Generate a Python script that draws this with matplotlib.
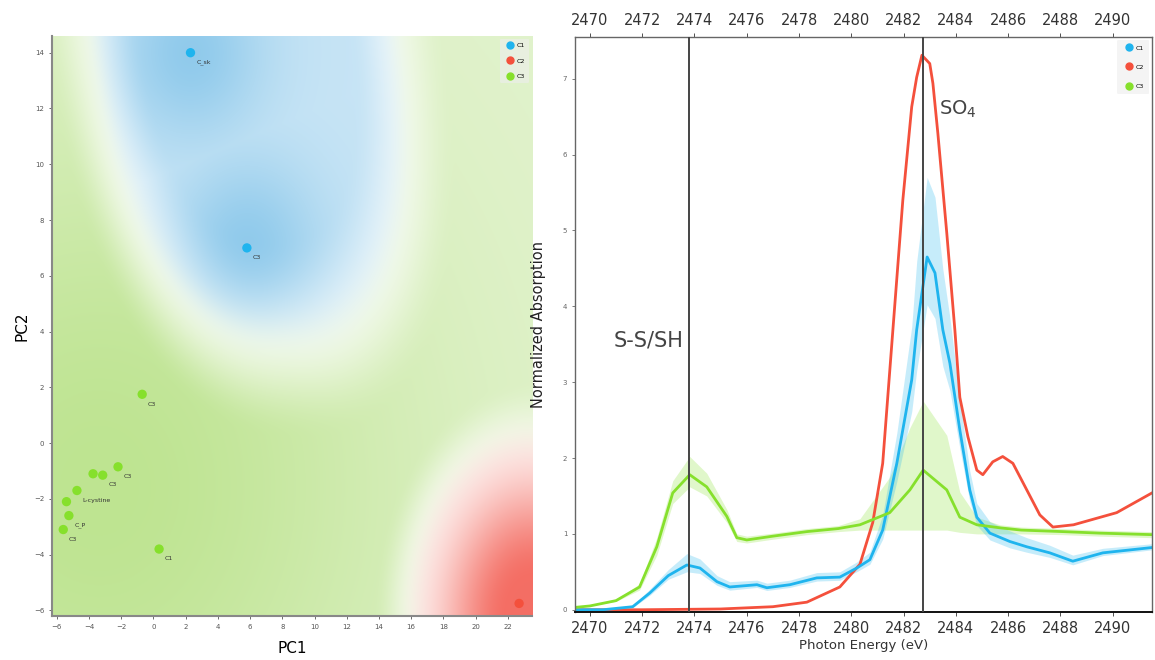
import numpy as np
import matplotlib
matplotlib.use("Agg")
import matplotlib.pyplot as plt
from matplotlib.lines import Line2D

# ---------------- data: PCA scores ----------------
pc1_blue = [2.3, 5.8]
pc2_blue = [14.0, 7.0]
lab_blue = ["C_sk", "C3"]

pc1_red = [22.7]
pc2_red = [-5.75]
lab_red = [""]

pc1_green = [-0.7, -2.2, -3.75, -3.15, -4.75, -5.4, -5.25, -5.6, 0.35]
pc2_green = [1.75, -0.85, -1.1, -1.15, -1.7, -2.1, -2.6, -3.1, -3.8]
lab_green = ["C3", "C3", "", "C3", "L-cystine", "", "C_P", "C3", "C1"]

pca_legend = ["C1", "C2", "C3"]

# ---------------- data: XANES spectra ----------------
e_green = [2469.4, 2470.0, 2471.0, 2471.9, 2472.56, 2473.17, 2473.82, 2474.47, 2475.24,
           2475.62, 2476.0, 2477.0, 2478.3, 2479.5, 2480.33, 2481.47, 2482.24, 2482.75,
           2483.65, 2484.15, 2484.8, 2485.68, 2486.5, 2488.09, 2489.5, 2491.5]
a_green = [0.03, 0.05, 0.12, 0.30, 0.83, 1.54, 1.78, 1.62, 1.23,
           0.95, 0.92, 0.97, 1.03, 1.07, 1.12, 1.28, 1.58, 1.84,
           1.58, 1.22, 1.12, 1.08, 1.05, 1.03, 1.01, 0.99]
lo_green = [0.03, 0.05, 0.11, 0.26, 0.72, 1.40, 1.62, 1.50, 1.15,
            0.90, 0.88, 0.93, 0.99, 1.03, 1.05, 1.05, 1.05, 1.05,
            1.05, 1.02, 1.00, 1.00, 1.00, 0.99, 0.97, 0.95]
hi_green = [0.04, 0.06, 0.14, 0.34, 0.95, 1.70, 2.02, 1.80, 1.32,
            1.00, 0.97, 1.01, 1.07, 1.11, 1.20, 1.75, 2.40, 2.75,
            2.30, 1.55, 1.22, 1.12, 1.09, 1.07, 1.05, 1.03]

e_blue = [2469.4, 2470.5, 2471.64, 2472.29, 2473.0, 2473.71, 2474.21, 2474.86, 2475.35,
          2476.39, 2476.77, 2477.65, 2478.68, 2479.56, 2480.21, 2480.71, 2481.2, 2481.74,
          2482.31, 2482.5, 2482.9, 2483.2, 2483.5, 2483.77, 2484.15, 2484.53, 2484.8,
          2485.3, 2486.06, 2486.71, 2487.59, 2488.47, 2489.62, 2491.5]
a_blue = [0.0, 0.0, 0.04, 0.22, 0.45, 0.59, 0.55, 0.37, 0.30,
          0.33, 0.29, 0.33, 0.42, 0.43, 0.55, 0.66, 1.05, 1.93,
          3.03, 3.69, 4.65, 4.44, 3.69, 3.25, 2.37, 1.58, 1.22,
          1.01, 0.90, 0.83, 0.75, 0.64, 0.75, 0.82]
sd_blue = [0.0, 0.0, 0.02, 0.05, 0.08, 0.15, 0.12, 0.08, 0.07,
           0.06, 0.06, 0.06, 0.07, 0.07, 0.08, 0.10, 0.20, 0.40,
           0.70, 0.90, 1.05, 1.00, 0.80, 0.60, 0.40, 0.25, 0.18,
           0.15, 0.14, 0.12, 0.10, 0.08, 0.06, 0.05]

e_red = [2469.4, 2472.0, 2475.0, 2477.0, 2478.3, 2479.56, 2480.33, 2480.82, 2481.2,
         2481.59, 2481.97, 2482.31, 2482.5, 2482.7, 2483.0, 2483.12, 2483.31, 2483.65,
         2483.96, 2484.15, 2484.46, 2484.8, 2485.03, 2485.41, 2485.79, 2486.18, 2486.71,
         2487.21, 2487.71, 2488.5, 2490.15, 2491.5]
a_red = [0.0, 0.0, 0.01, 0.04, 0.10, 0.30, 0.60, 1.15, 1.93,
         3.69, 5.40, 6.63, 7.02, 7.31, 7.20, 6.94, 6.28, 4.97,
         3.69, 2.80, 2.28, 1.84, 1.78, 1.95, 2.02, 1.93, 1.58,
         1.25, 1.09, 1.12, 1.28, 1.54]

xanes_legend = ["C1", "C2", "C3"]
xtick_vals = [2470, 2472, 2474, 2476, 2478, 2480, 2482, 2484, 2486, 2488, 2490]
peak_lines = [2473.8, 2482.75]

# ---------------- styling ----------------
c_blue = "#1fb4ee"
c_red = "#f4503c"
c_green = "#86e02c"

fig = plt.figure(figsize=(11.55, 6.6), dpi=100)

# ============ left panel ============
ax1 = fig.add_axes([0.045, 0.0667, 0.4156, 0.8788])
xmin, xmax, ymin, ymax = -6.3, 23.5, -6.2, 14.6
nx, ny = 600, 420
gx = np.linspace(xmin, xmax, nx)
gy = np.linspace(ymin, ymax, ny)
X, Y = np.meshgrid(gx, gy)
U = (X - xmin) / (xmax - xmin)
V = (Y - ymin) / (ymax - ymin)

ucen = 0.40 + 0.16 * (1 - V)
pexp = 2.4
rb = (np.abs((U - ucen) / 0.31) ** pexp + np.abs((V - 1.02) / 0.53) ** pexp) ** (1 / pexp)
rr = np.sqrt(((U - 1.0) / 0.245) ** 2 + ((V - 0.0) / 0.30) ** 2)

def smooth(t):
    t = np.clip(t, 0, 1)
    return t * t * (3 - 2 * t)

def sigm(t):
    return 1 / (1 + np.exp(-t))

wb = sigm((1 - rb) / 0.035)
wr = sigm((1 - rr) / 0.05)
wg = np.clip(1 - wb - wr, 0, 1)

def gauss(px, py, s):
    out = np.zeros_like(U)
    for a, b in zip(px, py):
        ua = (a - xmin) / (xmax - xmin)
        vb = (b - ymin) / (ymax - ymin)
        out = np.maximum(out, np.exp(-((U - ua) ** 2 + (V - vb) ** 2) / (2 * s * s)))
    return out

ib = 0.22 + 0.25 * smooth((1 - rb) / 0.3) + 0.45 * gauss(pc1_blue, pc2_blue, 0.11)
ir = 0.20 + 0.80 * smooth((1 - rr) / 0.8)
gcx = (np.mean(pc1_green) - xmin) / (xmax - xmin)
gcy = (np.mean(pc2_green) - ymin) / (ymax - ymin)
edge_g = smooth((np.minimum(rb - 1, rr - 1)) / 0.35)
ig = 0.22 + 0.78 * edge_g * (0.3 + 0.7 * np.exp(-((U - gcx) ** 2 + (V - gcy) ** 2) / (2 * 0.45 ** 2)))

white = np.array([1.0, 1.0, 1.0])
col_b = np.array([135, 198, 234]) / 255
col_r = np.array([244, 110, 100]) / 255
col_g = np.array([190, 228, 145]) / 255
img = np.zeros((ny, nx, 3))
for w, s, c in ((wb, ib, col_b), (wr, ir, col_r), (wg, ig, col_g)):
    s = np.clip(s, 0, 1)
    img = img + w[..., None] * (white + s[..., None] * (c - white))
img = np.clip(img, 0, 1)
ax1.imshow(img, extent=[xmin, xmax, ymin, ymax], origin="lower", aspect="auto",
           interpolation="bilinear", zorder=0)

ax1.scatter(pc1_blue, pc2_blue, s=45, color=c_blue, zorder=3, edgecolors="none")
ax1.scatter(pc1_red, pc2_red, s=45, color=c_red, zorder=3, edgecolors="none")
ax1.scatter(pc1_green, pc2_green, s=45, color=c_green, zorder=3, edgecolors="none")
for xs, ys, ls in ((pc1_blue, pc2_blue, lab_blue), (pc1_green, pc2_green, lab_green)):
    for a, b, t in zip(xs, ys, ls):
        if t:
            ax1.text(a + 0.35, b - 0.35, t, fontsize=4.5, color="#333333",
                     ha="left", va="center", zorder=4)

ax1.set_xlim(xmin, xmax)
ax1.set_ylim(ymin, ymax)
ax1.set_xticks(range(-6, 23, 2))
ax1.set_yticks(range(-6, 15, 2))
ax1.tick_params(labelsize=5, colors="#555555", length=2, width=0.6)
for s in ("top", "right"):
    ax1.spines[s].set_visible(False)
for s in ("left", "bottom"):
    ax1.spines[s].set_color("#888888")
    ax1.spines[s].set_linewidth(1.5)
ax1.set_xlabel("PC1", fontsize=11, labelpad=8)
ax1.set_ylabel("PC2", fontsize=11, labelpad=3)

h1 = [Line2D([], [], marker="o", ls="none", color=c, markersize=5)
      for c in (c_blue, c_red, c_green)]
leg1 = ax1.legend(h1, pca_legend, loc="upper right", fontsize=4.5, frameon=True,
                  handletextpad=0.1, borderpad=0.6, labelspacing=1.6,
                  bbox_to_anchor=(1.0, 1.0))
leg1.get_frame().set_facecolor("#eeeeee")
leg1.get_frame().set_edgecolor("none")
leg1.get_frame().set_alpha(0.6)

# ============ right panel ============
ax2 = fig.add_axes([0.4978, 0.0727, 0.4996, 0.8712])
ax2.fill_between(e_green, lo_green, hi_green, color=c_green, alpha=0.25, lw=0)
ab = np.array(a_blue)
sdb = np.array(sd_blue)
ax2.fill_between(e_blue, ab - 0.6 * sdb, ab + sdb, color=c_blue, alpha=0.25, lw=0)
ax2.plot(e_red, a_red, color=c_red, lw=2)
ax2.plot(e_blue, a_blue, color=c_blue, lw=2)
ax2.plot(e_green, a_green, color=c_green, lw=2)
for p in peak_lines:
    ax2.axvline(p, color="#444444", lw=1.4, zorder=5)

ax2.set_xlim(2469.43, 2491.5)
ax2.set_ylim(-0.03, 7.55)
ax2.set_xticks(xtick_vals)
ax2.set_yticks(range(0, 8))
ax2.tick_params(axis="x", labelsize=10.5, colors="#333333", top=True, labeltop=True,
                length=3, width=0.6)
ax2.tick_params(axis="y", labelsize=5, colors="#666666", length=2, width=0.6)
for s in ax2.spines.values():
    s.set_color("#666666")
    s.set_linewidth(1.0)
ax2.spines["bottom"].set_color("#111111")
ax2.spines["bottom"].set_linewidth(1.4)
ax2.set_xlabel("Photon Energy (eV)", fontsize=9.5, labelpad=2, color="#333333")
ax2.set_ylabel("Normalized Absorption", fontsize=10.5, labelpad=12, color="#222222")

ax2.text(2473.6, 3.55, "S-S/SH", fontsize=15, color="#444444", ha="right", va="center")
ax2.text(2483.35, 6.6, "SO$_4$", fontsize=14, color="#444444", ha="left", va="center")

h2 = [Line2D([], [], marker="o", ls="none", color=c, markersize=5)
      for c in (c_blue, c_red, c_green)]
leg2 = ax2.legend(h2, xanes_legend, loc="upper right", fontsize=4.5, frameon=True,
                  handletextpad=0.1, borderpad=0.8, labelspacing=2.2)
leg2.get_frame().set_facecolor("#f2f2f2")
leg2.get_frame().set_edgecolor("none")

fig.savefig("out.png", dpi=100, facecolor="white")
